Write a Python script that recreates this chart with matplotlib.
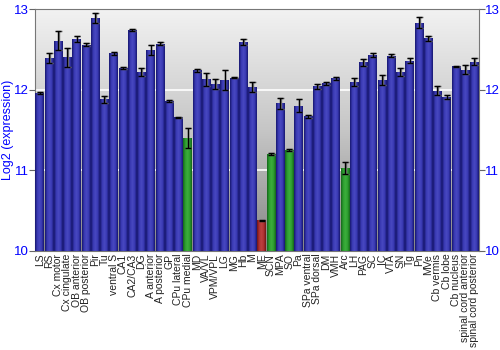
import numpy as np
import matplotlib
matplotlib.use('Agg')
import matplotlib.pyplot as plt
from matplotlib.colors import LinearSegmentedColormap

regions = ['LS', 'RS', 'Cx motor', 'Cx cingulate', 'OB anterior', 'OB posterior',
           'Pir', 'Tu', 'ventral S', 'CA1', 'CA2/CA3', 'DG', 'A anterior',
           'A posterior', 'GP', 'CPu lateral', 'CPu medial', 'MD', 'VA/VL',
           'VPM/VPL', 'LG', 'MG', 'Hb', 'M', 'ME', 'SCN', 'MPA', 'SO', 'Pa',
           'SPa ventral', 'SPa dorsal', 'DM', 'VMH', 'Arc', 'LH', 'PAG', 'SC',
           'IC', 'VTA', 'SN', 'Tg', 'Pn', 'MVe', 'Cb vermis', 'Cb lobe',
           'Cb nucleus', 'spinal cord anterior', 'spinal cord posterior']
expr = [11.96, 12.39, 12.61, 12.40, 12.63, 12.56, 12.89, 11.88, 12.45, 12.27,
        12.74, 12.22, 12.49, 12.57, 11.86, 11.66, 11.40, 12.24, 12.13, 12.07,
        12.12, 12.15, 12.59, 12.03, 10.38, 11.20, 11.83, 11.25, 11.80, 11.67,
        12.04, 12.08, 12.14, 11.03, 12.09, 12.34, 12.43, 12.12, 12.42, 12.22,
        12.36, 12.83, 12.64, 11.99, 11.91, 12.29, 12.25, 12.35]
err = [0.01, 0.06, 0.12, 0.12, 0.04, 0.02, 0.06, 0.04, 0.02, 0.01,
       0.01, 0.05, 0.06, 0.02, 0.015, 0.005, 0.12, 0.02, 0.08, 0.06,
       0.12, 0.005, 0.04, 0.06, 0.01, 0.01, 0.07, 0.01, 0.08, 0.02,
       0.03, 0.02, 0.02, 0.07, 0.05, 0.045, 0.02, 0.06, 0.02, 0.05,
       0.03, 0.07, 0.03, 0.06, 0.02, 0.01, 0.06, 0.04]
# b = blue, g = green, r = red
group = ['b'] * 16 + ['g'] + ['b'] * 7 + ['r', 'g', 'b', 'g'] + ['b'] * 5 + ['g'] + ['b'] * 14

shades = {
    'b': ['#16166e', '#3a3ab4', '#4848c0', '#3a3ab4', '#16166e'],
    'g': ['#14661a', '#2e9e30', '#3cae3c', '#2e9e30', '#14661a'],
    'r': ['#701414', '#b03232', '#bc4040', '#b03232', '#701414'],
}
plain = {'b': '#3333aa', 'g': '#2e9e30', 'r': '#b03232'}
blue = '#0000ff'

fig = plt.figure(figsize=(5, 3.5), dpi=100)
ax = fig.add_axes([0.07, 0.283, 0.888, 0.691])

x = np.arange(len(regions))
ax.set_xlim(-0.5, len(regions) - 0.5)
ax.set_ylim(10, 13)

# background gradient
bg = LinearSegmentedColormap.from_list('bg', ['#868686', '#c6c6c6', '#f2f2f2'])
ax.imshow(np.linspace(0, 1, 256).reshape(-1, 1), cmap=bg, aspect='auto',
          extent=[-0.5, len(regions) - 0.5, 10, 13], origin='lower', zorder=0)
for yv in [11, 12]:
    ax.axhline(yv, color='white', lw=1.2, zorder=1)

bars = ax.bar(x, np.array(expr) - 10, bottom=10, width=0.9,
              color=[plain[g] for g in group], zorder=2, linewidth=0)
for patch, g in zip(bars, group):
    cm = LinearSegmentedColormap.from_list('c', shades[g])
    im = ax.imshow(np.linspace(0, 1, 64).reshape(1, -1), cmap=cm, aspect='auto',
                   extent=[patch.get_x(), patch.get_x() + patch.get_width(),
                           10, 10 + patch.get_height()], zorder=3)
    im.set_clip_path(patch)

ax.errorbar(x + 0.08, expr, yerr=err, fmt='none', ecolor='#777777', elinewidth=1,
            capsize=2, capthick=1, zorder=4)
ax.errorbar(x, expr, yerr=err, fmt='none', ecolor='black', elinewidth=1,
            capsize=2, capthick=1, zorder=5)

ax.set_xticks(x)
ax.set_xticklabels(regions, rotation=90, fontsize=7.5, family='Liberation Sans',
                   color='#222222')
ax.tick_params(axis='x', length=0, pad=2)
ax.set_yticks([10, 11, 12, 13])
ax.tick_params(axis='y', labelsize=9.5, labelcolor=blue, length=4, color='#666666',
               left=True, right=True, labelleft=True, labelright=True, pad=0.5)
for lab in ax.get_yticklabels():
    lab.set_family('Liberation Sans')
ax.set_ylabel('Log2 (expression)', color=blue, fontsize=9, family='Liberation Sans',
              va='center')
ax.yaxis.set_label_coords(-0.061, 0.5)
for s in ax.spines.values():
    s.set_color('#777777')

fig.savefig('out.png', dpi=100)
